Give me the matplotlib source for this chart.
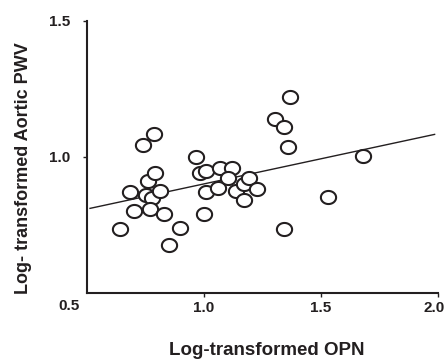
import matplotlib
matplotlib.use("Agg")
import matplotlib.pyplot as plt
import matplotlib.transforms as mtransforms
from matplotlib.path import Path
import numpy as np

plt.rcParams['font.family'] = ['Liberation Sans', 'DejaVu Sans']
plt.rcParams['font.weight'] = 'bold'

# log-transformed OPN vs log-transformed aortic PWV
opn = [0.640, 0.683, 0.700, 0.739, 0.786, 0.758, 0.789, 0.750, 0.775, 0.811,
       0.768, 0.828, 0.851, 0.899, 0.967, 0.982, 1.010, 0.999, 1.010, 1.060,
       1.070, 1.121, 1.103, 1.138, 1.170, 1.191, 1.170, 1.228, 1.302, 1.341,
       1.369, 1.359, 1.341, 1.530, 1.680]
pwv = [0.734, 0.871, 0.801, 1.043, 1.082, 0.911, 0.939, 0.859, 0.847, 0.875,
       0.808, 0.788, 0.675, 0.739, 1.000, 0.939, 0.947, 0.788, 0.871, 0.884,
       0.957, 0.957, 0.923, 0.874, 0.899, 0.921, 0.841, 0.881, 1.139, 1.110,
       1.218, 1.037, 0.734, 0.853, 1.004]

# regression line end points
fit_x = [0.512, 1.986]
fit_y = [0.810, 1.082]

ink = '#231f20'

# slightly flattened circle, like the original symbols
t = np.linspace(0, 2 * np.pi, 60)
oval = Path(np.column_stack([np.cos(t), 0.86 * np.sin(t)]), closed=True)

fig = plt.figure(figsize=(4.45, 3.6), dpi=100)
ax = fig.add_axes([0.196, 0.187, 0.788, 0.7555])

ax.plot(fit_x, fit_y, color=ink, lw=1.0, zorder=2)
ax.scatter(opn, pwv, s=120, marker=oval, facecolors='white', edgecolors=ink,
           linewidths=1.5, zorder=3)

ax.set_xlim(0.5, 2.0)
ax.set_ylim(0.5, 1.5)
ax.set_xticks([1.0, 1.5, 2.0])
ax.set_yticks([1.0, 1.5])
ax.set_xticklabels(['1.0', '1.5', '2.0'])
ax.set_yticklabels(['1.0', '1.5'])
ax.tick_params(direction='out', length=3, width=1.0, colors=ink,
               labelsize=11)
ax.tick_params(axis='y', pad=9)
ax.tick_params(axis='x', pad=3)
for lab in ax.get_xticklabels() + ax.get_yticklabels():
    lab.set_fontweight('bold')
# last label hugs the right edge of the figure
last = ax.get_xticklabels()[-1]
last.set_horizontalalignment('right')
last.set_transform(last.get_transform() +
                   mtransforms.ScaledTranslation(0.065, 0, fig.dpi_scale_trans))

ax.text(-0.022, -0.022, '0.5', transform=ax.transAxes, ha='right',
        va='top', fontsize=11, fontweight='bold', color=ink)

for side in ['top', 'right']:
    ax.spines[side].set_visible(False)
for side in ['left', 'bottom']:
    ax.spines[side].set_color(ink)
    ax.spines[side].set_linewidth(1.5)

fig.text(0.599, 0.003, 'Log-transformed OPN', ha='center', va='bottom',
         fontsize=13.5, fontweight='bold', color=ink)
fig.text(0.053, 0.533, 'Log- transformed Aortic PWV', ha='center',
         va='center', rotation=90, fontsize=13, fontweight='bold', color=ink)

fig.savefig('out.png', dpi=100)
